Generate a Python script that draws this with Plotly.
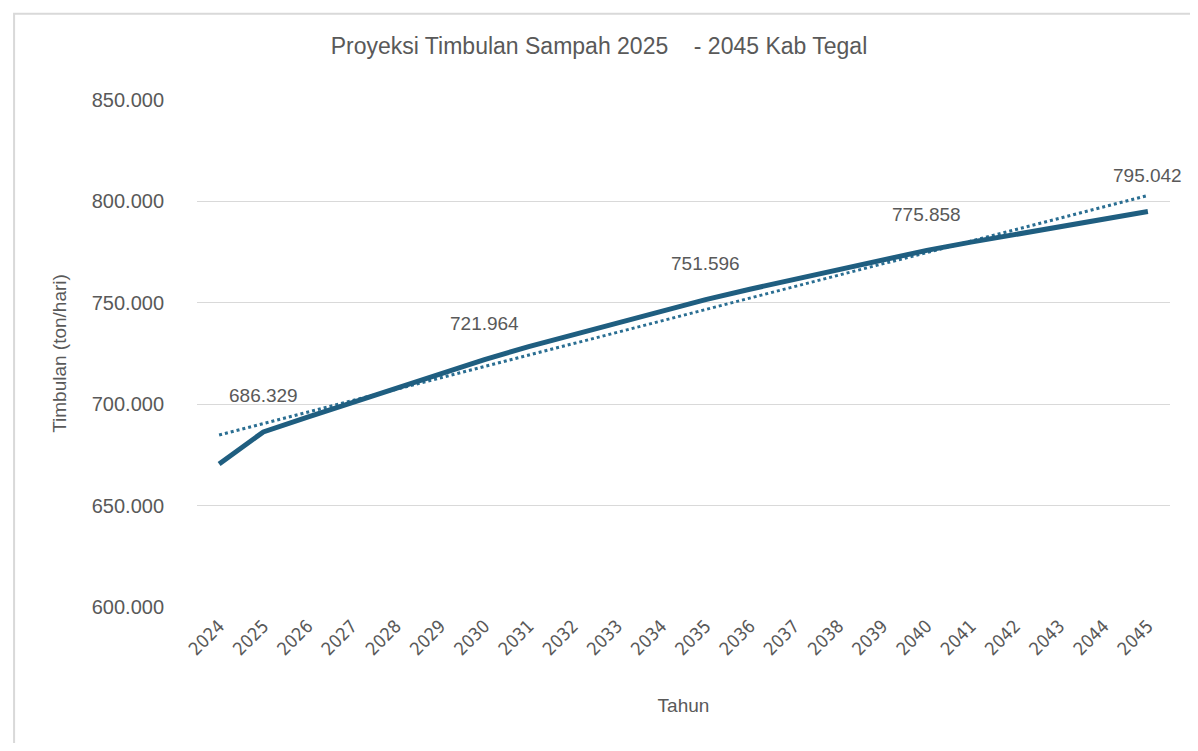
import numpy as np
import plotly.graph_objects as go

# data (ton/hari)
years = [str(y) for y in range(2024, 2046)]
timbulan = [
    670500, 686329, 693600, 700700, 707900, 715000, 721964,
    728400, 734300, 740000, 745900, 751596,
    756700, 761500, 766300, 771000, 775858,
    779900, 783800, 787700, 791300, 795042,
]
label_years = ["2025", "2030", "2035", "2040", "2045"]

line_color = "#1F5E80"
grey = "#595959"
font_family = "Liberation Sans, Arial, sans-serif"

# linear trend line over the category index, like a spreadsheet trendline
idx = np.arange(len(years))
slope, intercept = np.polyfit(idx, timbulan, 1)
trend = slope * idx + intercept

fig = go.Figure()
fig.add_trace(go.Scatter(
    x=years, y=trend, mode="lines",
    line=dict(color="#2A6E92", width=3, dash="dot"),
    hoverinfo="skip", showlegend=False))
fig.add_trace(go.Scatter(
    x=years, y=timbulan, mode="lines",
    line=dict(color=line_color, width=5),
    name="Timbulan", showlegend=False))

for yr in label_years:
    i = years.index(yr)
    v = timbulan[i]
    fig.add_annotation(
        x=i, y=v, text=f"{v:,}".replace(",", "."),
        showarrow=False, yshift=36,
        font=dict(family=font_family, size=19, color=grey))

# light frame around the chart area
fig.add_shape(type="rect", xref="paper", yref="paper",
              x0=-0.188, x1=1.1, y0=-0.4, y1=1.17,
              line=dict(color="#d9d9d9", width=2), fillcolor="rgba(0,0,0,0)",
              layer="below")

fig.update_layout(
    width=1182, height=735,
    margin=dict(l=189, r=20, t=92, b=136),
    paper_bgcolor="white", plot_bgcolor="white",
    separators=",.",
    font=dict(family=font_family, color=grey),
    title=dict(text="Proyeksi Timbulan Sampah 2025    - 2045 Kab Tegal",
               x=0.5, xanchor="center", y=0.948, yanchor="middle",
               font=dict(size=23, color=grey)),
)
fig.update_xaxes(
    type="category", range=[-0.5, len(years) - 0.5],
    tickangle=-45, showgrid=False, showline=False, ticks="",
    ticklabelstandoff=4,
    tickfont=dict(size=18, color=grey, family="DejaVu Sans Condensed, DejaVu Sans, sans-serif"),
    title=dict(text="Tahun", font=dict(size=19, color=grey), standoff=40),
)
fig.update_yaxes(
    range=[600000, 850000], dtick=50000, tickformat=",.0f",
    showgrid=True, gridcolor="#d9d9d9", gridwidth=1.3,
    zeroline=False, showline=False, ticks="",
    ticklabelstandoff=32,
    tickfont=dict(size=20, color=grey),
    title=dict(text="Timbulan (ton/hari)", font=dict(size=19, color=grey), standoff=20),
)

fig.write_html("out.html")
